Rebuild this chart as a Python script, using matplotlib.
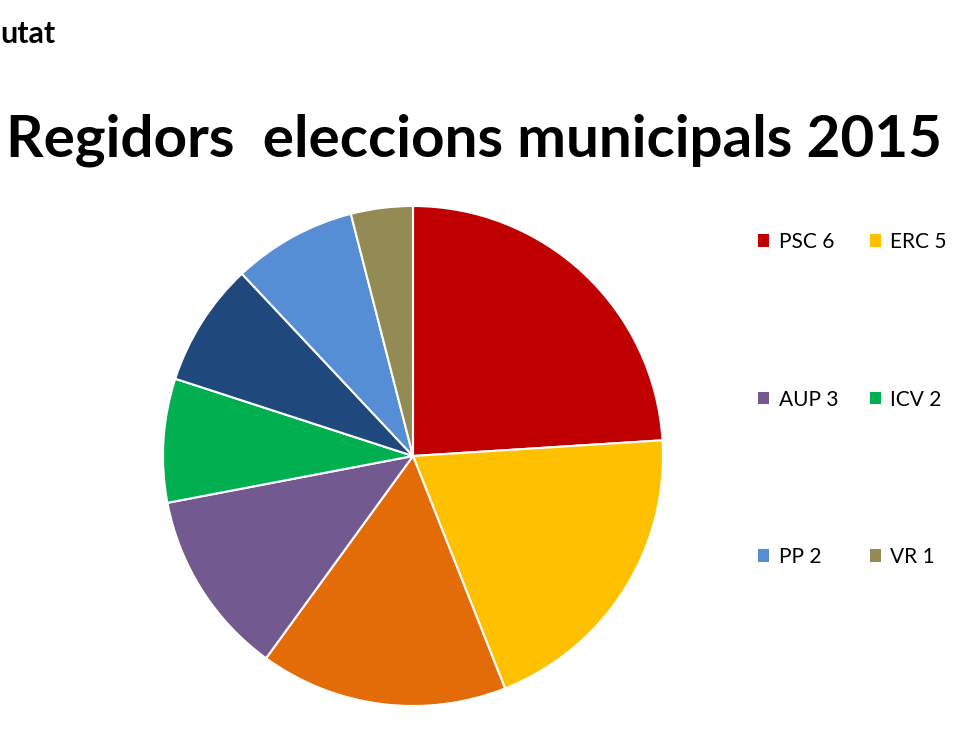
import matplotlib
matplotlib.use("Agg")
import matplotlib.pyplot as plt
from matplotlib.patches import Patch

plt.rcParams['font.family'] = ['Lato', 'DejaVu Sans']

parties = ["PSC", "ERC", "CiU", "AUP", "ICV", "CUP", "PP", "VR"]
seats = [6, 5, 4, 3, 2, 2, 2, 1]
colors = ["#C00000", "#FFC000", "#E36C09", "#725990", "#00B050", "#1F497D", "#558ED5", "#948A54"]
# legend rows (as shown in the reference, two per row)
legend_rows = [["PSC", "ERC"], ["AUP", "ICV"], ["PP", "VR"]]
title = "Regidors  eleccions municipals 2015"
corner_text = "utat"

fig = plt.figure(figsize=(9.6, 7.5), dpi=100)
fig.patch.set_facecolor("white")

ax = fig.add_axes([163/960, 44/750, 500/960, 500/750])
wedges, _ = ax.pie(seats, colors=colors, startangle=90, counterclock=False,
                   radius=1.0, wedgeprops=dict(edgecolor="white", linewidth=1.5))
ax.set_xlim(-1.0, 1.0)
ax.set_ylim(-1.0, 1.0)
ax.set_aspect("equal")
ax.axis("off")

fig.text(474/960, 1 - 140/750, title, ha="center", va="center",
         fontsize=42, fontweight="bold", color="black")
fig.text(0/960, 1 - 34/750, corner_text, ha="left", va="center",
         fontsize=22, fontweight="bold", color="black")

# column-major order so the legend reads row by row
handles = []
labels = []
for col in range(2):
    for row in legend_rows:
        p = row[col]
        i = parties.index(p)
        handles.append(Patch(facecolor=colors[i], edgecolor="none"))
        labels.append(f"{p} {seats[i]}")

leg = fig.legend(handles, labels, ncol=2, loc="upper left",
                 bbox_to_anchor=(758/960, 1 - 232/750),
                 frameon=False, fontsize=15, handlelength=0.55, handleheight=0.55,
                 handletextpad=0.45, columnspacing=1.5, labelspacing=6.6,
                 borderaxespad=0, borderpad=0)

fig.savefig("out.png", dpi=100, facecolor="white")
